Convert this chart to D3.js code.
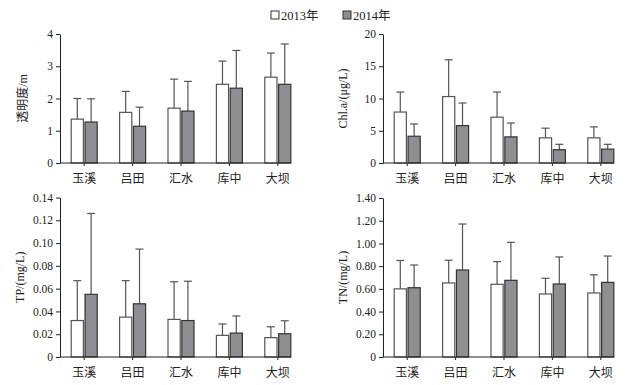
<!DOCTYPE html>
<meta charset="utf-8">
<style>
  body { margin: 0; background: #fff; }
  svg text { fill: #222; }
  .tick line, .domain, .xline { stroke: #222; }
</style>
<body>
<svg width="636" height="385"></svg>

<script src="https://cdn.jsdelivr.net/npm/d3@7"></script>
<script>

// sites and years
var sites = ["玉溪", "吕田", "汇水", "库中", "大坝"];
var years = ["2013年", "2014年"];

// transparency (m)
var sd_mean13 = [1.36, 1.57, 1.70, 2.44, 2.66];
var sd_err13  = [0.64, 0.65, 0.90, 0.72, 0.75];
var sd_mean14 = [1.27, 1.14, 1.61, 2.32, 2.44];
var sd_err14  = [0.72, 0.59, 0.92, 1.17, 1.25];
var sd_ticks  = [0, 1, 2, 3, 4];

// Chl.a (ug/L)
var chl_mean13 = [7.9, 10.3, 7.1, 3.9, 3.9];
var chl_err13  = [3.1, 5.7, 3.9, 1.5, 1.7];
var chl_mean14 = [4.15, 5.8, 4.05, 2.06, 2.15];
var chl_err14  = [1.9, 3.5, 2.15, 0.84, 0.75];
var chl_ticks  = [0, 5, 10, 15, 20];

// TP (mg/L)
var tp_mean13 = [0.032, 0.035, 0.033, 0.019, 0.017];
var tp_err13  = [0.035, 0.032, 0.033, 0.010, 0.0095];
var tp_mean14 = [0.055, 0.0467, 0.032, 0.021, 0.0204];
var tp_err14  = [0.071, 0.048, 0.0345, 0.015, 0.0114];
var tp_ticks  = [0, 0.02, 0.04, 0.06, 0.08, 0.10, 0.12, 0.14];

// TN (mg/L)
var tn_mean13 = [0.60, 0.652, 0.64, 0.555, 0.564];
var tn_err13  = [0.25, 0.20, 0.20, 0.138, 0.16];
var tn_mean14 = [0.61, 0.766, 0.675, 0.643, 0.657];
var tn_err14  = [0.20, 0.405, 0.335, 0.238, 0.232];
var tn_ticks  = [0, 0.20, 0.40, 0.60, 0.80, 1.00, 1.20, 1.40];

var svg = d3.select("svg");
var serif = "'Liberation Serif', 'Noto Sans CJK SC', serif";
var colors = { "2013年": "#fff", "2014年": "#8e8e93" };
var strokes = { "2013年": "#555", "2014年": "#333" };

function fmt2(d) { return d === 0 ? "0" : d.toFixed(2); }

function drawPanel(p) {

    var x = d3.scaleBand().domain(sites).range([p.left, p.left + 242]);
    var x1 = d3.scaleBand().domain(years).range([-13, 13]).paddingInner(0.12);
    var y = d3.scaleLinear().domain([0, p.ticks[p.ticks.length - 1]]).range([p.bottom, p.top]);

    var g = svg.append("g");

    var rows = [];
    sites.forEach(function(s, i) {
	rows.push({ site: s, year: years[0], mean: p.m13[i], err: p.e13[i] });
	rows.push({ site: s, year: years[1], mean: p.m14[i], err: p.e14[i] });
    });

    function cx(d) { return x(d.site) + x.bandwidth() / 2 + x1(d.year) + x1.bandwidth() / 2; }

    // error bars
    var eb = g.append("g").attr("stroke", "#555").attr("stroke-width", 1.2);
    eb.selectAll(".stem").data(rows).enter().append("line")
	.attr("x1", cx).attr("x2", cx)
	.attr("y1", function(d) { return y(d.mean); })
	.attr("y2", function(d) { return y(d.mean + d.err); });
    eb.selectAll(".cap").data(rows).enter().append("line")
	.attr("x1", function(d) { return cx(d) - 4; })
	.attr("x2", function(d) { return cx(d) + 4; })
	.attr("y1", function(d) { return y(d.mean + d.err); })
	.attr("y2", function(d) { return y(d.mean + d.err); });

    // bars
    g.selectAll(".bar").data(rows).enter().append("rect")
	.attr("x", function(d) { return x(d.site) + x.bandwidth() / 2 + x1(d.year); })
	.attr("width", x1.bandwidth())
	.attr("y", function(d) { return y(d.mean); })
	.attr("height", function(d) { return y(0) - y(d.mean); })
	.attr("fill", function(d) { return colors[d.year]; })
	.attr("stroke", function(d) { return strokes[d.year]; })
	.attr("stroke-width", 1.2);

    // y axis
    var ya = g.append("g")
	.attr("transform", "translate(" + p.left + ",0)")
	.call(d3.axisLeft(y).tickValues(p.ticks).tickFormat(p.fmt).tickSize(4).tickSizeOuter(0).tickPadding(3));
    ya.selectAll("text").style("font-family", serif).style("font-size", "11.5px").attr("fill", "#222");

    // x axis
    var xa = g.append("g")
	.attr("transform", "translate(0," + p.bottom + ")")
	.call(d3.axisBottom(x).tickSize(3).tickPadding(8));
    xa.select(".domain").remove();
    xa.append("line").attr("class", "xline")
	.attr("x1", p.left).attr("x2", x(sites[4]) + x.bandwidth() / 2 + x1.range()[1])
	.attr("stroke-width", 1.2);
    xa.selectAll("text").style("font-family", serif).style("font-size", "12px").attr("fill", "#222");

    // y title
    g.append("text")
	.attr("transform", "translate(" + p.titleX + "," + (p.top + p.bottom) / 2 + ") rotate(-90)")
	.attr("text-anchor", "middle")
	.attr("dy", "0.35em")
	.style("font-family", serif).style("font-size", "12px")
	.text(p.title);
}

drawPanel({ left: 60, top: 34, bottom: 163, ticks: sd_ticks, fmt: d3.format("d"),
	    m13: sd_mean13, e13: sd_err13, m14: sd_mean14, e14: sd_err14, title: "透明度/m", titleX: 23 });
drawPanel({ left: 383, top: 34, bottom: 163, ticks: chl_ticks, fmt: d3.format("d"),
	    m13: chl_mean13, e13: chl_err13, m14: chl_mean14, e14: chl_err14, title: "Chl.a/(μg/L)", titleX: 343 });
drawPanel({ left: 60, top: 197.5, bottom: 357, ticks: tp_ticks, fmt: fmt2,
	    m13: tp_mean13, e13: tp_err13, m14: tp_mean14, e14: tp_err14, title: "TP/(mg/L)", titleX: 20 });
drawPanel({ left: 383, top: 198, bottom: 357, ticks: tn_ticks, fmt: fmt2,
	    m13: tn_mean13, e13: tn_err13, m14: tn_mean14, e14: tn_err14, title: "TN/(mg/L)", titleX: 343 });

// legend
var legend = svg.append("g");
var legX = [271, 343];
years.forEach(function(yr, i) {
    legend.append("rect")
	.attr("x", legX[i]).attr("y", 11).attr("width", 8).attr("height", 8)
	.attr("fill", colors[yr]).attr("stroke", "#333").attr("stroke-width", 1);
    legend.append("text")
	.attr("x", legX[i] + 10).attr("y", 19.5)
	.style("font-family", serif).style("font-size", "12.5px")
	.text(yr);
});

</script>
</body>
